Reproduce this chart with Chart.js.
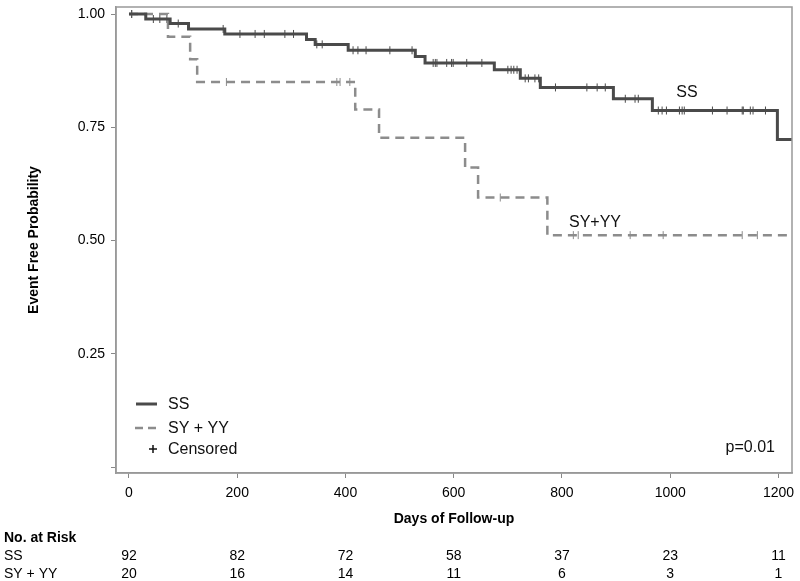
<!DOCTYPE html>
<html>
<head>
<meta charset="utf-8">
<script src="https://cdn.jsdelivr.net/npm/chart.js@4.4.1/dist/chart.umd.min.js"></script>
<style>
  html, body { margin: 0; padding: 0; background: #fff; }
  #km { display: block; }
</style>
</head>
<body>
<canvas id="km" width="800" height="581"></canvas>
<script>
// Kaplan-Meier steps
var ssTimes = [0, 31, 76, 110, 177, 328, 344, 405, 529, 547, 675, 723, 760, 895, 967, 1198, 1225];
var ssSurv  = [1.0, 0.989, 0.979, 0.967, 0.956, 0.944, 0.933, 0.920, 0.906, 0.892, 0.877, 0.858, 0.838, 0.813, 0.787, 0.723, 0.723];
var ssCensored = [5, 45, 57, 70, 91, 174, 205, 233, 250, 288, 304, 347, 357, 414, 423, 438, 482, 523, 562, 566, 569,
                  587, 596, 599, 624, 652, 700, 706, 711, 717, 732, 738, 750, 757, 788, 846, 865, 880, 917, 935, 941,
                  978, 985, 993, 1017, 1022, 1026, 1078, 1105, 1133, 1135, 1148, 1153, 1176];

var syTimes = [0, 72, 113, 126, 418, 462, 621, 645, 773, 1225];
var sySurv  = [1.0, 0.95, 0.90, 0.85, 0.789, 0.727, 0.661, 0.595, 0.512, 0.512];
var syCensored = [5, 180, 384, 390, 408, 686, 821, 830, 926, 987, 1133, 1161];

var xTicks = [0, 200, 400, 600, 800, 1000, 1200];
var yTicks = [0, 0.25, 0.5, 0.75, 1.0];

var riskTimes = [0, 200, 400, 600, 800, 1000, 1200];
var ssRisk = [92, 82, 72, 58, 37, 23, 11];
var syRisk = [20, 16, 14, 11, 6, 3, 1];

var FONT = "'Liberation Sans', Arial, sans-serif";
var ssColor = '#4a4a4a';
var syColor = '#8c8c8c';

function stepAt(times, surv, t) {
    var v = surv[0];
    for (var i = 0; i < times.length; i++) {
        if (times[i] <= t) v = surv[i];
    }
    return v;
}
function toPoints(times, surv) {
    return times.map(function(t, i){ return {x: t, y: surv[i]}; });
}
function censorPoints(cens, times, surv) {
    return cens.map(function(t){ return {x: t, y: stepAt(times, surv, t)}; });
}

var extras = {
    id: 'extras',
    afterDraw: function(chart) {
        var ctx = chart.ctx, a = chart.chartArea;
        var xs = chart.scales.x, ys = chart.scales.y;
        ctx.save();
        // box round the plot
        ctx.strokeStyle = '#999';
        ctx.lineWidth = 1.5;
        ctx.strokeRect(a.left, a.top, a.right - a.left, a.bottom - a.top);

        // curve labels
        ctx.fillStyle = '#111';
        ctx.font = '16px ' + FONT;
        ctx.textAlign = 'center';
        ctx.textBaseline = 'middle';
        ctx.fillText('SS', xs.getPixelForValue(1031), ys.getPixelForValue(0.826));
        ctx.fillText('SY+YY', xs.getPixelForValue(861), ys.getPixelForValue(0.539));

        // legend
        ctx.textAlign = 'left';
        ctx.lineWidth = 3;
        ctx.strokeStyle = ssColor;
        ctx.beginPath(); ctx.moveTo(136, 404); ctx.lineTo(157, 404); ctx.stroke();
        ctx.strokeStyle = syColor;
        ctx.lineWidth = 2.5;
        ctx.setLineDash([8, 5]);
        ctx.beginPath(); ctx.moveTo(135, 428); ctx.lineTo(157, 428); ctx.stroke();
        ctx.setLineDash([]);
        ctx.strokeStyle = '#111';
        ctx.lineWidth = 1.5;
        ctx.beginPath();
        ctx.moveTo(149, 449); ctx.lineTo(157, 449);
        ctx.moveTo(153, 445); ctx.lineTo(153, 453);
        ctx.stroke();
        ctx.fillText('SS', 168, 405);
        ctx.fillText('SY + YY', 168, 429);
        ctx.fillText('Censored', 168, 450);

        ctx.textAlign = 'right';
        ctx.fillText('p=0.01', 775, 448);

        // number at risk table
        ctx.fillStyle = '#000';
        ctx.textAlign = 'left';
        ctx.font = 'bold 14px ' + FONT;
        ctx.fillText('No. at Risk', 4, 538);
        ctx.font = '14px ' + FONT;
        ctx.fillText('SS', 4, 556);
        ctx.fillText('SY + YY', 4, 574);
        ctx.textAlign = 'center';
        riskTimes.forEach(function(t, i){
            var px = xs.getPixelForValue(t);
            [[ssRisk, 556], [syRisk, 574]].forEach(function(row){
                var txt = String(row[0][i]);
                var w = ctx.measureText(txt).width;
                ctx.fillText(txt, Math.min(px, 791 - w / 2), row[1]);
            });
        });
        ctx.restore();
    }
};

var ctx = document.getElementById('km');
var chart = new Chart(ctx, {
    type: 'line',
    data: {
        datasets: [
            {
                label: 'SS',
                data: toPoints(ssTimes, ssSurv),
                stepped: true,
                borderColor: ssColor,
                borderWidth: 3,
                pointRadius: 0,
                fill: false
            },
            {
                label: 'SY + YY',
                data: toPoints(syTimes, sySurv),
                stepped: true,
                borderColor: syColor,
                borderWidth: 2.5,
                borderDash: [9, 6],
                pointRadius: 0,
                fill: false
            },
            {
                label: 'SS censored',
                data: censorPoints(ssCensored, ssTimes, ssSurv),
                showLine: false,
                pointStyle: 'line',
                rotation: 90,
                pointRadius: 4,
                borderWidth: 1,
                borderColor: ssColor,
                backgroundColor: ssColor
            },
            {
                label: 'SY censored',
                data: censorPoints(syCensored, syTimes, sySurv),
                showLine: false,
                pointStyle: 'line',
                rotation: 90,
                pointRadius: 4,
                borderWidth: 1,
                borderColor: syColor,
                backgroundColor: syColor
            }
        ]
    },
    options: {
        responsive: false,
        animation: false,
        events: [],
        layout: { padding: { top: 7, right: 8, left: 0, bottom: 0 } },
        plugins: {
            legend: { display: false },
            tooltip: { enabled: false }
        },
        scales: {
            x: {
                type: 'linear',
                min: -24,
                max: 1225,
                afterBuildTicks: function(scale){ scale.ticks = xTicks.map(function(v){ return {value: v}; }); },
                afterFit: function(scale){
                    scale.height = 108;
                    scale.paddingLeft = 0;
                    scale.paddingRight = 0;
                },
                grid: { drawOnChartArea: false, drawTicks: true, tickLength: 5, color: '#888' },
                border: { color: '#999', width: 1.5 },
                ticks: {
                    color: '#000',
                    padding: 7,
                    maxRotation: 0,
                    font: { family: FONT, size: 14 },
                    callback: function(v){ return String(v); }
                },
                title: {
                    display: true,
                    text: 'Days of Follow-up',
                    color: '#000',
                    font: { family: FONT, size: 14, weight: 'bold' },
                    padding: { top: 0, bottom: 53.6 }
                }
            },
            y: {
                type: 'linear',
                min: -0.013,
                max: 1.0155,
                afterBuildTicks: function(scale){ scale.ticks = yTicks.map(function(v){ return {value: v}; }); },
                afterFit: function(scale){
                    scale.width = 116;
                    scale.paddingTop = 0;
                    scale.paddingBottom = 0;
                },
                grid: { drawOnChartArea: false, drawTicks: true, tickLength: 5, color: '#888' },
                border: { color: '#999', width: 1.5 },
                ticks: {
                    color: '#000',
                    padding: 6,
                    font: { family: FONT, size: 14 },
                    callback: function(v){ return v === 0 ? '' : v.toFixed(2); }
                },
                title: {
                    display: true,
                    text: 'Event Free Probability',
                    color: '#000',
                    font: { family: FONT, size: 14, weight: 'bold' },
                    padding: { top: 25.6, bottom: 0 }
                }
            }
        }
    },
    plugins: [extras]
});
</script>
</body>
</html>
